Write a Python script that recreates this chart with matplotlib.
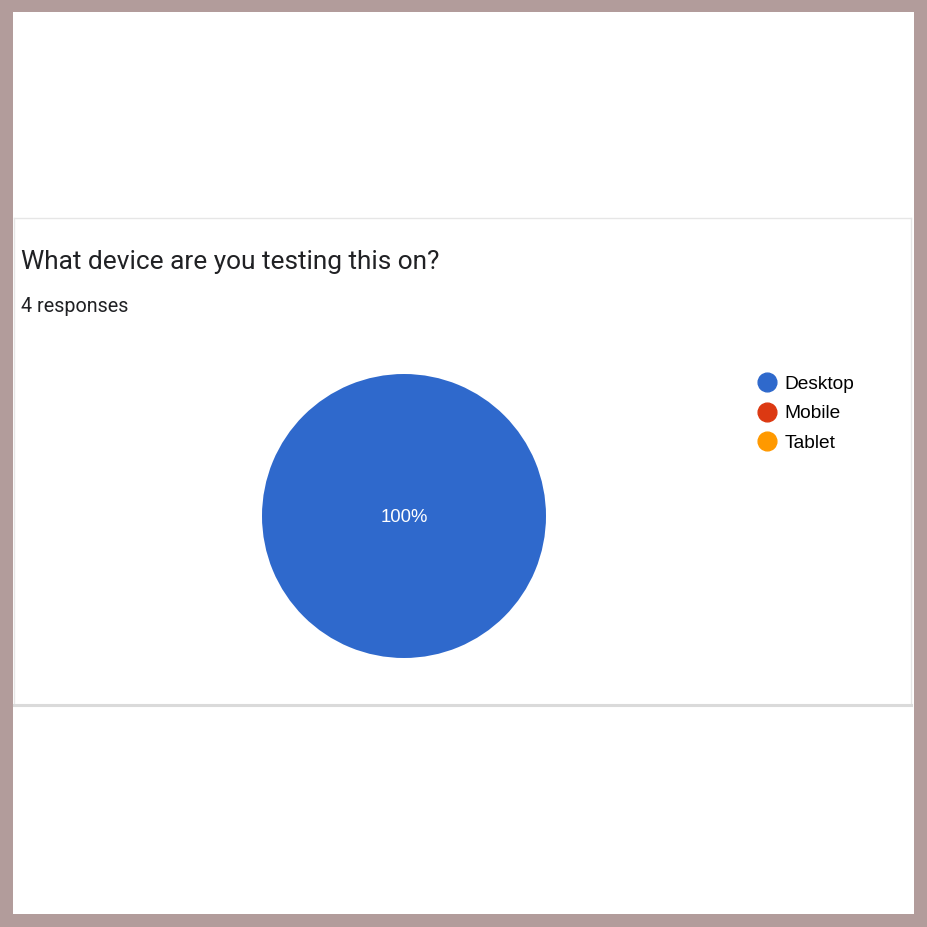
import matplotlib
matplotlib.use("Agg")
import matplotlib.pyplot as plt
from matplotlib.patches import Rectangle
from matplotlib.lines import Line2D

# data
categories = ["Desktop", "Mobile", "Tablet"]
responses = [4, 0, 0]
colors = ["#2f69cc", "#dc3912", "#ff9900"]
title = "What device are you testing this on?"
subtitle = "4 responses"

W = H = 927
fig = plt.figure(figsize=(W / 100, H / 100), dpi=100)
fig.patch.set_facecolor("#b29c9b")


def fx(px):
    return px / W


def fy(py):
    # pixel y from top -> figure fraction from bottom
    return 1 - py / H


# white page inside the border
fig.patches.append(Rectangle((fx(13), fy(914)), fx(914 - 13), (914 - 12) / H,
                             transform=fig.transFigure, facecolor="white",
                             edgecolor="none", zorder=-2))

# card outline
card = dict(transform=fig.transFigure, color="#e6e6e6", zorder=-1)
fig.add_artist(Line2D([fx(14), fx(911)], [fy(218), fy(218)], lw=1, **card))
fig.add_artist(Line2D([fx(14), fx(14)], [fy(218), fy(705)], lw=1, **card))
fig.add_artist(Line2D([fx(911), fx(911)], [fy(218), fy(705)], lw=1, **card))
fig.add_artist(Line2D([fx(14), fx(911)], [fy(705), fy(705)], lw=2.2,
                      transform=fig.transFigure, color="#dadada", zorder=-1))

fig.text(fx(21), fy(262), title, fontsize=18.9, family="Roboto",
         color="#202124", va="center", ha="left")
fig.text(fx(21), fy(306), subtitle, fontsize=14.2, family="Roboto",
         color="#202124", va="center", ha="left")

# pie
cx, cy, r = 404, 516, 142
ax = fig.add_axes([fx(cx - r), fy(cy + r), 2 * r / W, 2 * r / H], zorder=2)


def pct(v):
    return f"{v:.0f}%" if v > 0.5 else ""


wedges, texts, autotexts = ax.pie(responses, colors=colors, startangle=90,
                                  counterclock=False, autopct=pct,
                                  pctdistance=0.0,
                                  textprops=dict(color="white", fontsize=13.3,
                                                 family="Liberation Sans"))
for t in autotexts:
    t.set_va("center_baseline")
ax.set_xlim(-1, 1)
ax.set_ylim(-1, 1)
ax.axis("off")

# legend
handles = [Line2D([], [], marker="o", linestyle="none", markersize=13.5,
                  markerfacecolor=c, markeredgecolor=c) for c in colors]
fig.legend(handles, categories, loc="upper left",
           bbox_to_anchor=(fx(746), fy(368)), frameon=False,
           prop=dict(family="Liberation Sans", size=13.8),
           handletextpad=0.2, labelspacing=0.62, borderaxespad=0,
           handlelength=1.4)

fig.savefig("out.png", dpi=100, facecolor=fig.get_facecolor())
